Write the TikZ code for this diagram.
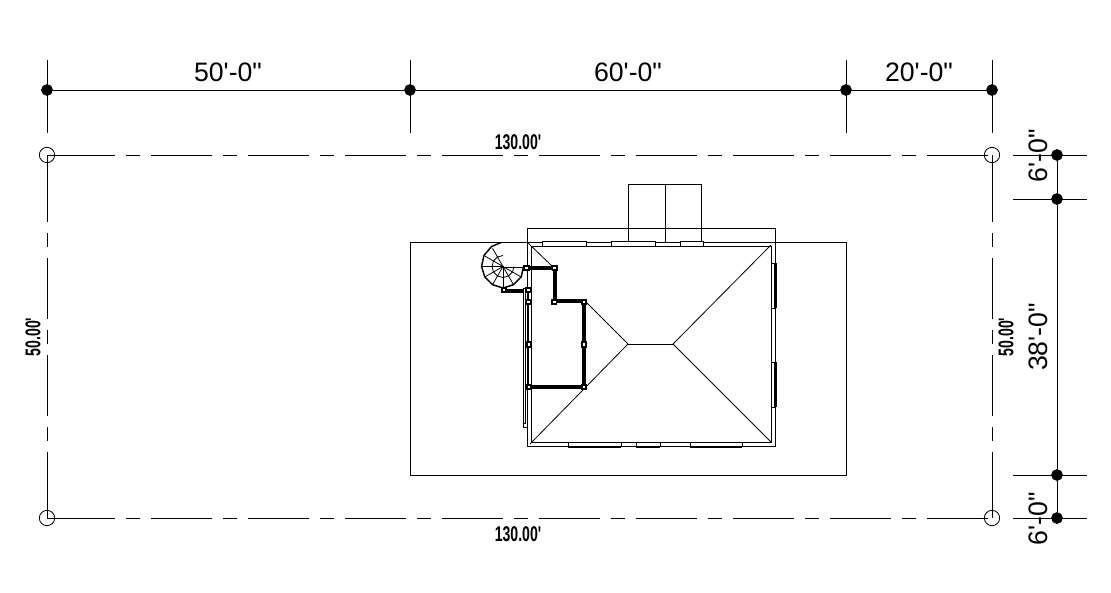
\documentclass[tikz,border=0pt]{standalone}
\usepackage{fontspec}
\newfontfamily\plainsans{Liberation Sans}
\usetikzlibrary{calc}
\begin{document}
\tikzset{
  dimdot/.style={draw,circle,fill=black,inner sep=0pt,minimum size=8pt},
  cornermark/.style={draw,circle,line width=0.6pt,inner sep=0pt,minimum size=11.5pt},
  markbox/.style={draw,fill=white,line width=1.3pt,inner sep=0pt,minimum size=3.4pt},
  boundary/.style={line width=0.75pt,dash pattern=on 45.75pt off 8.25pt on 10.5pt off 8.25pt},
  thinline/.style={line width=0.75pt},
  wall/.style={line width=2.4pt},
  dimtext/.style={font=\plainsans\fontsize{20}{20}\selectfont},
  plottext/.style={font=\plainsans\bfseries\fontsize{16}{16}\selectfont,xscale=0.66}
}
\begin{tikzpicture}[x=0.75pt,y=-0.75pt,thinline]
    \useasboundingbox (0,0) rectangle (1111,593);
    % top dimensions
    \node[dimdot] (t1) at (47,90) {};
    \node[dimdot] (t2) at (410,90) {};
    \node[dimdot] (t3) at (846,90) {};
    \node[dimdot] (t4) at (992,90) {};
    \draw (t1) -- (t2) -- (t3) -- (t4);
    \foreach \x in {47,410,846,992}
        \draw (\x,60) -- (\x,133);
    \node[dimtext] at (228,72) {50'-0"};
    \node[dimtext] at (628,72) {60'-0"};
    \node[dimtext] at (919,72) {20'-0"};
    % boundary
    \node[cornermark] (c1) at (47,155) {};
    \node[cornermark] (c2) at (992,155) {};
    \node[cornermark] (c3) at (992,518) {};
    \node[cornermark] (c4) at (47,518) {};
    \draw[boundary] ($(c1.center)+(7,0)$) -- (c2.center);
    \draw[boundary] ($(c4.center)+(7,0)$) -- (c3.center);
    \draw[boundary] ($(c1.center)+(0,6)$) -- (c4.center);
    \draw[boundary] ($(c2.center)+(0,6)$) -- (c3.center);
    \draw (c1.center) -- +(8,0);
    \draw (c4.center) -- +(8,0);
    \draw (c1.center) -- +(0,7);
    \draw (c2.center) -- +(0,7);
    \draw (c4.center) -- +(0,-6);
    \draw (c3.center) -- +(0,-6);
    \node[plottext] at (518,142) {130.00'};
    \node[plottext] at (518,534) {130.00'};
    \node[rotate=90,plottext] at (33,337) {50.00'};
    \node[rotate=90,plottext] at (1006,337) {50.00'};
    % right dimensions
    \node[dimdot] (r1) at (1057,155) {};
    \node[dimdot] (r2) at (1057,199) {};
    \node[dimdot] (r3) at (1057,475) {};
    \node[dimdot] (r4) at (1057,518) {};
    \draw (r1) -- (r2) -- (r3) -- (r4);
    \foreach \y in {155,199,475,518}
        \draw (1013,\y) -- (1087,\y);
    \node[dimtext,rotate=90] at (1038,156) {6'-0"};
    \node[dimtext,rotate=90] at (1038,337) {38'-0"};
    \node[dimtext,rotate=90] at (1038,519) {6'-0"};
    % plot and house
    \draw (410,242) rectangle (846,475);
    \draw (527,228) rectangle (775,446);
    \draw (531,246) rectangle (771,442);
    \draw (628,242) -- (628,184) -- (701,184) -- (701,242);
    \draw (665,184) -- (665,242);
    % roof
    \draw (628,344) -- (673,344);
    \draw[line width=0.6pt] (628,344) -- (584,300);
    \draw[line width=0.6pt] (552,266) -- (527,242);
    \draw[line width=0.6pt] (628,344) -- (530,444);
    \draw[line width=0.6pt] (673,344) -- (771,245);
    \draw[line width=0.6pt] (673,344) -- (771,442);
    % windows
    \foreach \a/\b in {542/586,611/655,680/703}
        \draw[fill=white] (\a,241) rectangle (\b,246);
    \foreach \a/\b in {568/621,636/660,690/742} {
        \draw[fill=white] (\a,442) rectangle (\b,446);
        \draw[line width=1.6pt] (\a,447) -- (\b,447);
    }
    \foreach \a/\b in {263/308,362/407} {
        \draw[fill=white] (771,\a) rectangle (775,\b);
        \draw[line width=1.6pt] (775.5,\a) -- (775.5,\b);
    }
    % left side
    \draw[line width=0.6pt] (527,288) -- (523,288) -- (523,427) -- (527,427);
    \draw[line width=0.6pt] (525.5,288) -- (525.5,423) -- (523,423);
    % stair
    \coordinate (s) at (503,266.5);
    \draw[line width=1.1pt] ($(s)+(0:20.5)$) \foreach \t/\r in {30/21,60/21,90/21.5,120/21,150/21,180/21.5,210/22,240/23,265/24} { -- ($(s)+(\t:\r)$) };
    \foreach \t in {30,60,...,240}
        \draw[line width=0.6pt] (s) -- ($(s)+(\t:21)$);
    \draw[line width=0.6pt] ($(s)+(0:11)$) \foreach \t in {30,60,...,270} { -- ($(s)+(\t:11)$) };
    % upper floor
    \draw (503.5,267) -- (503.5,291);
    \draw[wall] (503.5,291) -- (524,291);
    \draw[wall] (526.5,268) -- (555,268) -- (555,301) -- (584,301) -- (584,387) -- (528.5,387);
    \draw[line width=1.3pt] (528.5,387) -- (528.5,290);
    \draw (503,267) -- (527,267);
    \foreach \p in {(504,290),(526.5,268),(554.7,268),(554.3,302),(584,302),(584,344.5),(584,387),(529,387),(529,344.5),(528.5,302),(528.5,290)}
        \node[markbox] at \p {};
\end{tikzpicture}
\end{document}
